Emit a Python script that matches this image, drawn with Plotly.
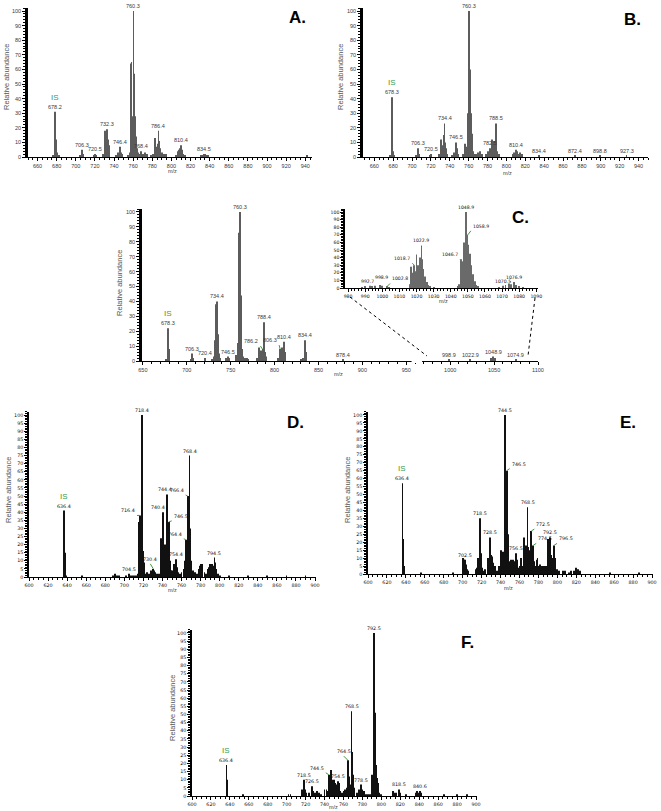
import plotly.graph_objects as go

W, H = 661, 811

# ---------------- data (m/z, relative abundance) ----------------
# Panel A
a_mz = [676.2, 678.2, 679.2, 680.2, 682.0,
        704.3, 706.3, 707.3, 718.5, 720.5, 721.5,
        728.3, 730.3, 731.3, 732.3, 733.3, 734.3, 735.3,
        742.4, 744.4, 746.4, 747.4, 748.4,
        754.3, 756.3, 757.3, 758.3, 759.3, 760.3, 761.3, 762.3, 763.3, 764.3, 765.3,
        766.4, 768.4, 770.4, 772.4, 774.4,
        778.4, 780.4, 782.4, 783.4, 784.4, 785.4, 786.4, 787.4, 788.4, 790.4, 792.4, 794.4,
        804.4, 806.4, 807.4, 808.4, 809.4, 810.4, 811.4, 812.4, 814.4,
        830.5, 832.5, 834.5, 835.5, 836.5, 838.5, 942.0]
a_int = [1, 31, 12, 3, 1,
         1, 5, 2, 1, 2, 1,
         2, 18, 17, 19, 12, 8, 3,
         1, 3, 7, 3, 2,
         1, 3, 64, 65, 28, 100, 57, 28, 14, 6, 3,
         2, 4, 2, 3, 2,
         1, 2, 13, 12, 7, 9, 18, 11, 6, 3, 2, 2,
         1, 4, 5, 5, 6, 8, 5, 2, 1,
         1, 1, 2, 2, 1, 1, 1]
a_lab_mz = [678.2, 706.3, 720.5, 732.3, 746.4, 760.3, 768.4, 786.4, 810.4, 834.5]
a_lab_txt = ["678.2", "706.3", "720.5", "732.3", "746.4", "760.3", "768.4", "786.4", "810.4", "834.5"]

# Panel B
b_mz = [676.3, 678.3, 679.3, 680.3, 681.3,
        704.3, 706.3, 707.3, 718.5, 720.5,
        728.4, 730.4, 731.4, 732.4, 733.4, 734.4, 735.4, 736.4, 737.4,
        742.5, 744.5, 746.5, 747.5, 748.5,
        754.3, 756.3, 758.3, 759.3, 760.3, 761.3, 762.3, 763.3, 764.3, 766.3, 768.3, 770.3, 772.3, 774.3,
        778.5, 780.5, 782.5, 783.5, 784.5, 785.5, 786.5, 787.5, 788.5, 789.5, 790.5, 792.5,
        806.4, 808.4, 809.4, 810.4, 811.4, 812.4, 814.4, 816.4,
        834.4, 872.4, 898.8, 927.3]
b_int = [1, 41, 16, 4, 1,
         1, 6, 2, 1, 2,
         2, 12, 5, 8, 15, 23, 10, 6, 2,
         1, 3, 10, 6, 2,
         2, 9, 7, 30, 100, 60, 30, 16, 4, 2, 2, 3, 4, 2,
         2, 4, 6, 4, 12, 6, 11, 9, 23, 10, 4, 2,
         2, 3, 2, 5, 4, 2, 3, 2,
         1, 1, 1, 1]
b_lab_mz = [678.3, 706.3, 720.5, 734.4, 746.5, 760.3, 782.5, 788.5, 810.4, 834.4, 872.4, 898.8, 927.3]
b_lab_txt = ["678.3", "706.3", "720.5", "734.4", "746.5", "760.3", "782.5", "788.5", "810.4", "834.4", "872.4", "898.8", "927.3"]

# Panel C (main)
c_mz = [676.3, 678.3, 679.3, 680.3,
        704.3, 706.3, 707.3, 720.4,
        728.4, 730.4, 732.4, 733.4, 734.4, 735.4, 736.4, 738.4,
        744.5, 746.5, 748.5,
        756.3, 758.3, 759.3, 760.3, 761.3, 762.3, 763.3, 764.3, 766.3, 768.3, 770.3,
        780.2, 782.2, 783.2, 784.2, 786.2, 788.4, 789.4, 790.4,
        804.3, 806.3, 807.3, 808.3, 810.4, 811.4, 812.4,
        830.4, 832.4, 834.4, 835.4, 836.4,
        878.4, 998.9, 1022.9, 1046.7, 1048.9, 1050.9, 1074.9]
c_int = [1, 22, 8, 2,
         1, 5, 2, 2,
         1, 3, 14, 38, 40, 18, 5, 2,
         2, 3, 2,
         4, 12, 86, 100, 44, 22, 8, 3, 2, 2, 1,
         2, 9, 5, 7, 8, 26, 6, 3,
         2, 8, 4, 9, 13, 6, 3,
         1, 2, 14, 6, 2,
         1, 1, 1, 2, 3, 2, 1]
c_lab_mz = [678.3, 706.3, 720.4, 734.4, 746.5, 760.3, 786.2, 788.4, 806.3, 810.4, 834.4, 878.4,
            998.9, 1022.9, 1048.9, 1074.9]
c_lab_txt = ["678.3", "706.3", "720.4", "734.4", "746.5", "760.3", "786.2", "788.4", "806.3", "810.4",
             "834.4", "878.4", "998.9", "1022.9", "1048.9", "1074.9"]

# Panel C (inset, m/z 980-1090)
i_mz = [988, 990, 992.7, 994, 996, 998.9, 1000, 1002.8, 1004,
        1016, 1017, 1018, 1018.7, 1019.5, 1020, 1021, 1022, 1022.9, 1023.5, 1024, 1025, 1026, 1027, 1028, 1030,
        1044, 1045, 1046, 1046.7, 1047.3, 1048, 1048.9, 1049.5, 1050, 1051, 1052, 1053, 1054, 1055, 1056,
        1068, 1070.5, 1072, 1074, 1075, 1076.9, 1078, 1080, 1082]
i_int = [1, 2, 3, 2, 3, 4, 3, 2, 1,
         5, 28, 20, 30, 22, 44, 30, 40, 56, 38, 25, 15, 8, 4, 2, 1,
         2, 5, 38, 35, 25, 60, 100, 70, 57, 45, 30, 18, 9, 4, 2,
         1, 3, 4, 6, 5, 8, 4, 2, 1]
i_lab_mz = [992.7, 998.9, 1002.8, 1018.7, 1022.9, 1046.7, 1048.9, 1050.0, 1070.5, 1076.9]
i_lab_txt = ["992.7", "998.9", "1002.8", "1018.7", "1022.9", "1046.7", "1048.9", "1058.9", "1070.5", "1076.9"]

# Panel D
d_mz = [636.4, 637.4, 638.4,
        656, 688, 690, 692, 694,
        702, 704.5, 705.5, 708, 710, 712, 714,
        715.4, 716.4, 717.4, 718.4, 719.4, 720.4, 721.4,
        724, 726, 728, 729, 730.4, 731.4, 732, 734, 736,
        738.4, 739.4, 740.4, 741.4, 742.4, 743.4, 744.4, 745.4, 746.5, 747.5, 748.5,
        750, 752, 753, 754.4, 755.4, 756, 758, 760, 762,
        763.4, 764.4, 765.4, 766.4, 767.4, 768.4, 769.4, 770.4,
        772, 774, 776, 778, 779, 780, 781, 782, 784, 786,
        788, 789, 790, 791, 792, 793, 794.5, 795.5, 796, 798, 800,
        810, 830, 850, 870, 890]
d_int = [41, 15, 1,
         1, 1, 2, 1, 1,
         1, 2, 1, 1, 1, 1, 2,
         34, 38, 15, 100, 16, 9, 2,
         3, 2, 4, 3, 5, 4, 3, 2, 2,
         24, 12, 40, 10, 20, 8, 51, 17, 34, 10, 4,
         4, 8, 6, 11, 6, 3, 2, 3, 5,
         10, 23, 11, 50, 20, 75, 30, 10,
         4, 3, 2, 5, 7, 8, 6, 8, 3, 2,
         5, 6, 8, 4, 8, 7, 12, 9, 5, 2, 1,
         1, 1, 1, 1, 1]
d_lab_mz = [636.4, 704.5, 716.4, 718.4, 730.4, 740.4, 744.4, 746.5, 754.4, 764.4, 766.4, 768.4, 794.5]
d_lab_txt = ["636.4", "704.5", "716.4", "718.4", "730.4", "740.4", "744.4", "746.5", "754.4", "764.4",
             "766.4", "768.4", "794.5"]

# Panel E
e_mz = [636.4, 637.4, 638.4,
        656, 690,
        700.5, 701.5, 702.5, 703.5, 704.5, 706,
        714.5, 715.5, 716.5, 717.5, 718.5, 719.5, 720.5, 722, 724,
        726.5, 727.5, 728.5, 729.5, 730.5, 731.5, 732.5, 734, 736,
        738, 740.5, 741.5, 742.5, 743.5, 744.5, 745.5, 746.5, 747.5, 748.5, 750, 751,
        752, 753, 754, 755, 756.5, 757.5, 758, 760, 762, 763,
        764.5, 765.5, 766.5, 767.5, 768.5, 769.5, 770.5, 771.5, 772.5, 773.5,
        774.5, 775.5, 776, 778, 779, 780, 782, 784, 786, 788,
        790.5, 791.5, 792.5, 793.5, 794.5, 795.5, 796.5, 797.5, 798, 800,
        802, 806, 808, 812, 814, 818, 820, 822, 824, 856, 886]
e_int = [57, 22, 5,
         1, 1,
         10, 9, 9, 6, 3, 2,
         3, 4, 10, 4, 35, 13, 4, 2, 3,
         10, 4, 23, 12, 11, 11, 7, 5, 2,
         5, 15, 6, 14, 9, 100, 25, 65, 25, 8, 5, 9,
         4, 9, 8, 5, 13, 9, 4, 5, 10, 5,
         23, 12, 18, 9, 42, 17, 15, 11, 27, 10,
         18, 8, 5, 9, 10, 5, 6, 5, 5, 5,
         22, 20, 23, 12, 10, 8, 18, 10, 5, 3,
         2, 2, 2, 1, 2, 2, 4, 3, 2, 1, 1]
e_lab_mz = [636.4, 702.5, 718.5, 728.5, 744.5, 746.5, 756.5, 768.5, 772.5, 774.5, 792.5, 796.5]
e_lab_txt = ["636.4", "702.5", "718.5", "728.5", "744.5", "746.5", "756.5", "768.5", "772.5", "774.5",
             "792.5", "796.5"]

# Panel F
f_mz = [636.4, 637.4,
        654, 702, 704,
        716, 717, 718.5, 719.5, 720, 724, 726.5, 727.5, 730, 732, 734, 736,
        740, 742, 743, 744.5, 745.5, 746.5, 747.5, 748, 750, 751, 752, 753, 754.5, 755.5, 756, 758, 760, 762,
        763.5, 764.5, 765.5, 766.5, 767.5, 768.5, 769.5, 770.5, 771, 774, 776, 777, 778.5, 780, 782, 784, 786, 788,
        789.5, 790.5, 791.5, 792.5, 793.5, 794.5, 795.5, 796.5, 798, 800,
        812, 814, 816, 818.5, 819.5, 820, 826, 836, 838, 839, 840.6, 841.6, 842, 866, 880, 890]
f_int = [19, 10,
         1, 1, 1,
         4, 3, 10, 4, 2, 2, 6, 3, 2, 3, 2, 1,
         4, 4, 3, 13, 5, 16, 10, 3, 10, 8, 6, 7, 9, 8, 3, 2, 3, 4,
         5, 22, 12, 7, 6, 52, 27, 13, 5, 2, 4, 3, 7, 4, 3, 1, 1, 1,
         6, 13, 5, 100, 51, 19, 11, 8, 2, 1,
         3, 2, 2, 4, 2, 1, 1, 2, 3, 2, 3, 2, 1, 1, 1, 1]
f_lab_mz = [636.4, 718.5, 726.5, 744.5, 754.5, 764.5, 768.5, 778.5, 792.5, 818.5, 840.6]
f_lab_txt = ["636.4", "718.5", "726.5", "744.5", "754.5", "764.5", "768.5", "778.5", "792.5", "818.5", "840.6"]

# ---------------- layout / styling ----------------
def fx(px):
    return px / W


def fy(py):
    return 1 - py / H


GREEN = "#3f9a3f"
MONO = dict(family="Liberation Sans", size=5.5, color="#3a3a3a")
SMALL = dict(family="DejaVu Sans", size=4.8, color="#111111")
INSET = dict(family="DejaVu Sans", size=4.6, color="#111111")

panels = [
    dict(n=1, mz=a_mz, it=a_int, lm=a_lab_mz, lt=a_lab_txt, xd=(28, 312), yd=(157, 8.1),
         xr=[650, 947], yr=[0, 102], dx=20, mx=5, dy=10, my=2, col="#5c5c5c", bw=0.9, font=MONO,
         isl=678.2, ylw=2.5),
    dict(n=2, mz=b_mz, it=b_int, lm=b_lab_mz, lt=b_lab_txt, xd=(363, 648), yd=(157, 8.1),
         xr=[648, 950], yr=[0, 102], dx=20, mx=5, dy=10, my=2, col="#5c5c5c", bw=0.9, font=MONO,
         isl=678.3, ylw=2.5),
    dict(n=3, mz=c_mz, it=c_int, lm=c_lab_mz, lt=c_lab_txt, xd=(142, 538), yd=(361, 209),
         xr=[649, 1100], yr=[0, 102], dx=50, mx=10, dy=10, my=2, col="#5c5c5c", bw=1.0, font=MONO,
         isl=678.3, ylw=2.5),
    dict(n=4, mz=i_mz, it=i_int, lm=i_lab_mz, lt=i_lab_txt, xd=(345, 538), yd=(288, 209),
         xr=[978.2, 1091], yr=[0, 104], dx=10, mx=2, dy=10, my=2, col="#6a6a6a", bw=0.55, font=INSET,
         isl=None, ylw=1.5),
    dict(n=5, mz=d_mz, it=d_int, lm=d_lab_mz, lt=d_lab_txt, xd=(29, 316), yd=(577, 411.8),
         xr=[600, 901], yr=[0, 102], dx=20, mx=5, dy=5, my=1, col="#111111", bw=0.9, font=SMALL,
         isl=636.4, ylw=1.6),
    dict(n=6, mz=e_mz, it=e_int, lm=e_lab_mz, lt=e_lab_txt, xd=(368, 653), yd=(574, 411.8),
         xr=[600, 901], yr=[0, 102], dx=20, mx=5, dy=5, my=1, col="#111111", bw=0.9, font=SMALL,
         isl=636.4, ylw=1.6),
    dict(n=7, mz=f_mz, it=f_int, lm=f_lab_mz, lt=f_lab_txt, xd=(192, 477), yd=(796, 629.7),
         xr=[600, 901], yr=[0, 102], dx=20, mx=5, dy=5, my=1, col="#111111", bw=0.9, font=SMALL,
         isl=636.4, ylw=1.6),
]

# labels drawn beside their peak with a small green leader: (ax, ay, xanchor)
leaders = {
    (3, "786.2"): (-2, -3, "right"), (3, "806.3"): (-1, -4, "right"),
    (4, "1002.8"): (3, -3, "left"), (4, "1018.7"): (-2, -2, "right"), (4, "1046.7"): (-2, -2, "right"),
    (4, "1058.9"): (3, -4, "left"),
    (5, "716.4"): (-3, 0, "right"), (5, "730.4"): (-3, -5, "center"), (5, "746.5"): (3, -1, "left"),
    (5, "764.4"): (-2, -1, "right"), (5, "766.4"): (-2, -1, "right"),
    (6, "746.5"): (3, -2, "left"), (6, "772.5"): (3, -2, "left"), (6, "774.5"): (3, -2, "left"),
    (6, "796.5"): (3, -2, "left"),
    (7, "744.5"): (-3, -2, "right"), (7, "764.5"): (-4, -4, "center"),
}
# small pixel nudges (dx, dy) for crowded labels
shifted = {(5, "740.4"): (-5, 0), (5, "744.4"): (-2, 0), (4, "992.7"): (-2, 0), (4, "998.9"): (1, 3)}

fig = go.Figure()
annotations = []
shapes = []
layout = {}

for p in panels:
    n = p["n"]
    xs = "x" if n == 1 else f"x{n}"
    ys = "y" if n == 1 else f"y{n}"
    xk = "xaxis" if n == 1 else f"xaxis{n}"
    yk = "yaxis" if n == 1 else f"yaxis{n}"

    fig.add_trace(go.Bar(x=p["mz"], y=p["it"], width=p["bw"], marker=dict(color=p["col"], line=dict(width=0)),
                         xaxis=xs, yaxis=ys, showlegend=False, hoverinfo="x+y"))

    tf = dict(family=p["font"]["family"], size=p["font"]["size"], color=p["font"]["color"])
    layout[xk] = dict(domain=[fx(p["xd"][0]), fx(p["xd"][1])], range=p["xr"], anchor=ys,
                      showline=True, linecolor="black", linewidth=1.3, ticks="outside", ticklen=3,
                      tickwidth=1, tickcolor="black", dtick=p["dx"], tick0=0, showgrid=False,
                      zeroline=False, tickfont=tf, automargin=False,
                      minor=dict(dtick=p["mx"], ticks="outside", ticklen=2, tickcolor="black", tickwidth=0.8))
    layout[yk] = dict(domain=[fy(p["yd"][0]), fy(p["yd"][1])], range=p["yr"], anchor=xs,
                      showline=True, linecolor="black", linewidth=p["ylw"], ticks="outside", ticklen=3,
                      tickwidth=1, tickcolor="black", dtick=p["dy"], tick0=0, showgrid=False,
                      zeroline=False, tickfont=tf, automargin=False,
                      minor=dict(dtick=p["my"], ticks="outside", ticklen=2, tickcolor="black", tickwidth=0.8))

    # peak labels
    for m, t in zip(p["lm"], p["lt"]):
        near = [v for x, v in zip(p["mz"], p["it"]) if abs(x - m) <= 0.6]
        h = max(near) if near else 0
        lf = dict(p["font"])
        key = (n, t)
        if key in leaders:
            ax, ay, xa = leaders[key]
            annotations.append(dict(x=m, y=h, xref=xs, yref=ys, text=t, showarrow=True, arrowhead=0,
                                    arrowwidth=1, arrowcolor=GREEN, ax=ax, ay=ay, xanchor=xa,
                                    yanchor="bottom", standoff=0, font=lf))
        else:
            sx, sy = shifted.get(key, (0, 0))
            annotations.append(dict(x=m, y=h, xref=xs, yref=ys, text=t, showarrow=False,
                                    xanchor="center", yanchor="bottom", yshift=sy,
                                    xshift=sx, font=lf))
        if p["isl"] is not None and abs(m - p["isl"]) < 0.01:
            annotations.append(dict(x=m, y=h, xref=xs, yref=ys, text="IS", showarrow=False,
                                    xanchor="center", yanchor="bottom", yshift=8,
                                    font=dict(family="Liberation Sans", size=8, color=GREEN)))

# axis titles, m/z labels and panel letters (paper positions in px)
ytitle_pos = [(6, 77), (340, 77), (120, 283), (8, 490), (347, 490), (172, 708)]
for (px, py) in ytitle_pos:
    annotations.append(dict(x=fx(px), y=fy(py), xref="paper", yref="paper", text="Relative abundance",
                            textangle=-90, showarrow=False, xanchor="center", yanchor="middle",
                            font=dict(family="Liberation Sans", size=7.5, color="#555555")))
mz_pos = [(172, 171), (507, 173), (338, 374), (443, 301), (172, 590), (508, 588), (333, 807)]
for (px, py) in mz_pos:
    annotations.append(dict(x=fx(px), y=fy(py), xref="paper", yref="paper", text="m/z", showarrow=False,
                            xanchor="center", yanchor="middle",
                            font=dict(family="Liberation Sans", size=5.5, color="#444444")))
letters = [("A.", 297, 18), ("B.", 632, 20), ("C.", 520, 218), ("D.", 295, 422), ("E.", 628, 422),
           ("F.", 467, 642)]
for (t, px, py) in letters:
    annotations.append(dict(x=fx(px), y=fy(py), xref="paper", yref="paper", text=f"<b>{t}</b>",
                            showarrow=False, xanchor="center", yanchor="middle",
                            font=dict(family="Liberation Sans", size=17, color="black")))

# dotted zoom connectors from inset to main C axis, and break in the main axis line
shapes.append(dict(type="line", xref="paper", yref="paper", x0=fx(350), y0=fy(297), x1=fx(427), y1=fy(356),
                   line=dict(color="black", width=1, dash="dot")))
shapes.append(dict(type="line", xref="paper", yref="paper", x0=fx(535), y0=fy(298), x1=fx(528), y1=fy(356),
                   line=dict(color="black", width=1, dash="dot")))
shapes.append(dict(type="rect", xref="x3", yref="paper", x0=956, x1=968, y0=fy(363), y1=fy(359),
                   fillcolor="white", line=dict(width=0), layer="above"))

fig.update_layout(width=W, height=H, margin=dict(l=0, r=0, t=0, b=0, pad=0), paper_bgcolor="white",
                  plot_bgcolor="rgba(0,0,0,0)", barmode="overlay", annotations=annotations, shapes=shapes,
                  **layout)

fig.write_html("out.html", config={"displayModeBar": False},
               post_script="document.body.style.margin='0';document.body.style.padding='0';")
